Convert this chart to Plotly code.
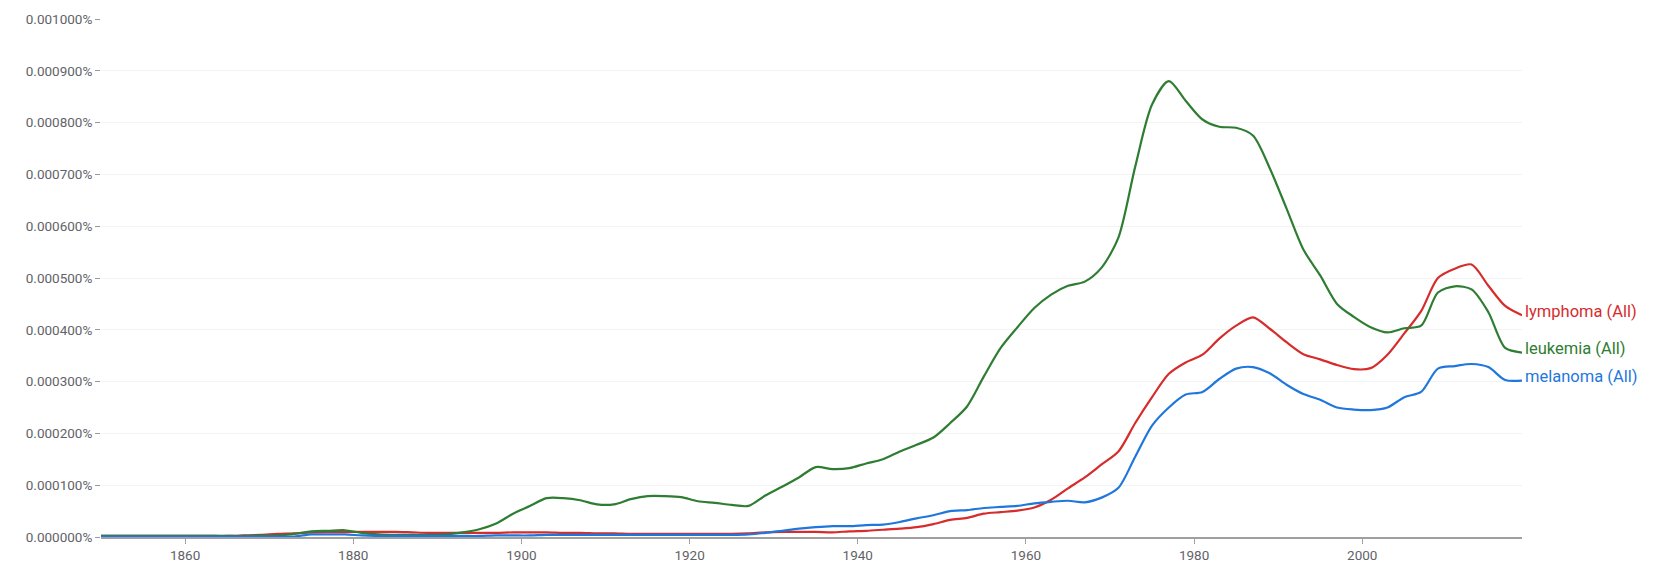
import plotly.graph_objects as go

# years on a two-year grid (in units of 0.000001 %)
years = [1850] + list(range(1851, 2020, 2))

lymphoma = [2, 2, 2, 2, 2, 2, 2, 2, 2, 3, 4, 6, 7, 9, 10, 10, 10, 10, 10, 9, 8, 8, 8, 8,
            8, 9, 9, 9, 8, 8, 7, 7, 6, 6, 6, 6, 6, 6, 6, 7, 9, 10, 10, 10, 9, 11, 12, 14,
            16, 19, 25, 33, 37, 45, 48, 51, 57, 72, 94, 115, 140, 165, 220, 270, 315, 337,
            352, 383, 408, 424, 402, 376, 353, 343, 332, 324, 326, 352, 393, 436, 500, 518,
            526, 485, 446, 428]

leukemia = [2, 2, 2, 2, 2, 2, 2, 2, 2, 2, 3, 3, 6, 11, 12, 13, 8, 5, 4, 4, 4, 5, 9, 15,
            26, 45, 60, 75, 75, 71, 63, 63, 73, 79, 79, 77, 69, 66, 62, 60, 80, 97, 115, 135,
            131, 133, 142, 150, 165, 178, 192, 220, 252, 310, 365, 405, 442, 468, 485, 493,
            520, 578, 715, 835, 880, 842, 806, 792, 790, 775, 712, 634, 555, 505, 450, 425,
            405, 395, 403, 408, 472, 484, 478, 434, 365, 356]

melanoma = [1, 1, 1, 1, 1, 1, 1, 1, 1, 1, 1, 1, 1, 5, 5, 5, 3, 2, 2, 2, 2, 2, 2, 2,
            3, 3, 3, 4, 4, 4, 4, 4, 4, 4, 4, 4, 4, 4, 4, 5, 8, 12, 16, 19, 21, 21, 23, 24,
            29, 36, 42, 50, 52, 56, 58, 60, 65, 68, 70, 67, 76, 95, 155, 215, 250, 275,
            280, 305, 325, 328, 316, 294, 276, 265, 250, 246, 245, 250, 270, 280, 325, 330,
            334, 328, 303, 302]

series = [
    ("lymphoma (All)", lymphoma, "#d62c2c"),
    ("leukemia (All)", leukemia, "#2e7d32"),
    ("melanoma (All)", melanoma, "#1f77dd"),
]

fig = go.Figure()
for name, vals, col in series:
    pct = [v / 1e6 for v in vals]
    fig.add_trace(go.Scatter(x=years, y=pct, mode="lines", name=name,
                             line=dict(color=col, width=2.2, shape="spline", smoothing=0.8),
                             hoverinfo="skip"))
    fig.add_annotation(x=years[-1], y=pct[-1], text=name, showarrow=False,
                       xanchor="left", yanchor="middle", xshift=1, yshift=4,
                       font=dict(color=col, size=16.5, family="Roboto"))

fig.update_layout(
    width=1656, height=569,
    margin=dict(l=101, r=134, t=19, b=32),
    plot_bgcolor="white", paper_bgcolor="white",
    showlegend=False,
    font=dict(family="Roboto", size=13.5, color="#5f6368"),
)
fig.update_xaxes(range=[1850, 2019], tickvals=[1860, 1880, 1900, 1920, 1940, 1960, 1980, 2000],
                 showgrid=False, showline=True, linecolor="#a0a0a0", linewidth=1.5,
                 ticks="outside", ticklen=5, tickcolor="#a0a0a0", zeroline=False,
                 automargin=False)
fig.update_yaxes(range=[0, 0.001], dtick=0.0001, tickformat=".6f", ticksuffix="%",
                 showgrid=True, gridcolor="#f3f3f3", gridwidth=1, showline=False,
                 ticks="outside", ticklen=5, tickcolor="#9a9a9a", zeroline=False,
                 automargin=False)

# drop the default body margin so the figure fills the window exactly
fig.write_html("out.html", config={"displayModeBar": False},
               post_script="document.body.style.margin='0';")
